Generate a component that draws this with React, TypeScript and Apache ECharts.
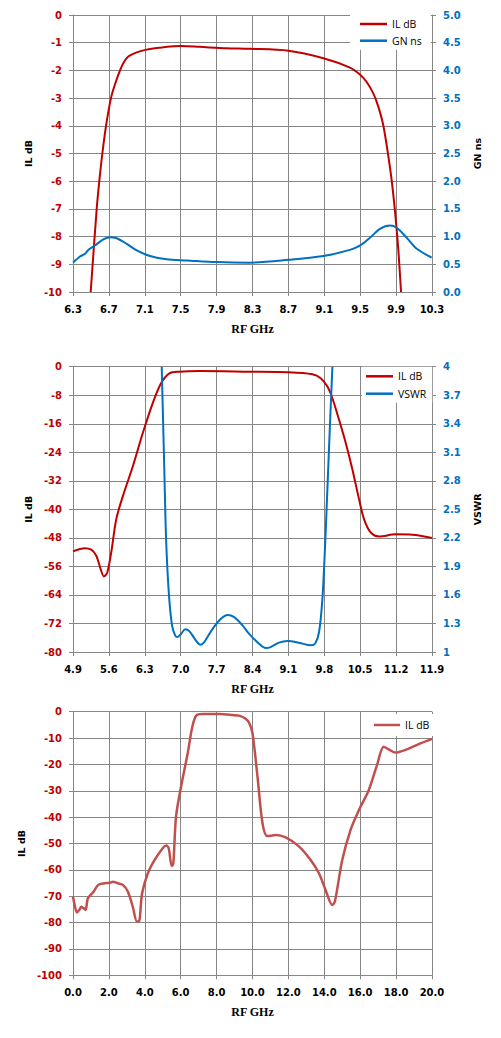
import React, { useEffect, useRef } from "react";
import * as echarts from "echarts";

// ---------- Chart 1 data (RF GHz vs IL dB / GN ns) ----------
const c1Freq = [6.497, 6.564, 6.593, 6.627, 6.668, 6.723, 6.768, 6.824, 6.868, 6.916, 7.01, 7.12, 7.27, 7.42, 7.51, 7.71, 8.01, 8.27, 8.7, 9.09, 9.386, 9.5, 9.572, 9.646, 9.7, 9.757, 9.81, 9.85, 9.888, 9.925, 9.955];
const c1IL = [-10, -7.0, -6.0, -5.0, -4.0, -3.0, -2.5, -2.0, -1.7, -1.5, -1.35, -1.25, -1.18, -1.13, -1.12, -1.15, -1.2, -1.22, -1.29, -1.56, -1.9, -2.16, -2.42, -2.83, -3.29, -3.98, -5.02, -5.95, -7.1, -8.49, -10];
const c1GNFreq = [6.3, 6.378, 6.434, 6.47, 6.545, 6.638, 6.712, 6.787, 6.898, 7.01, 7.158, 7.344, 7.567, 7.9, 8.27, 8.7, 9.09, 9.386, 9.5, 9.609, 9.72, 9.832, 9.907, 10.018, 10.13, 10.297];
const c1GN = [0.53, 0.64, 0.69, 0.76, 0.84, 0.95, 0.99, 0.97, 0.87, 0.75, 0.65, 0.59, 0.57, 0.54, 0.53, 0.58, 0.65, 0.76, 0.84, 0.98, 1.14, 1.2, 1.16, 0.98, 0.78, 0.62];

// ---------- Chart 2 data (RF GHz vs IL dB / VSWR) ----------
const c2Freq = [4.9, 5.127, 5.256, 5.354, 5.438, 5.503, 5.568, 5.645, 5.743, 5.872, 6.067, 6.261, 6.455, 6.617, 6.78, 6.974, 7.36, 8.335, 9.1, 9.568, 9.73, 9.86, 9.958, 10.088, 10.218, 10.348, 10.478, 10.576, 10.706, 10.868, 11.194, 11.519, 11.9];
const c2IL = [-51.8, -50.9, -51.3, -53.0, -56.7, -58.8, -57.7, -52.1, -42.8, -36.3, -27.9, -18.6, -10.2, -4.65, -1.86, -1.4, -1.2, -1.4, -1.58, -2.14, -3.26, -5.58, -8.84, -14.9, -21.4, -28.8, -37.2, -42.8, -46.5, -47.6, -47.0, -47.1, -48.0];
const c2VSFreq = [6.63, 6.682, 6.715, 6.767, 6.831, 6.896, 6.94, 7.006, 7.09, 7.168, 7.298, 7.382, 7.46, 7.622, 7.784, 7.914, 8.043, 8.205, 8.335, 8.528, 8.658, 8.755, 8.918, 9.08, 9.308, 9.536, 9.62, 9.698, 9.763, 9.815, 9.86, 9.912, 9.958];
const c2VSWR = [4.0, 2.88, 2.19, 1.63, 1.28, 1.17, 1.157, 1.19, 1.24, 1.22, 1.12, 1.077, 1.105, 1.244, 1.35, 1.39, 1.366, 1.28, 1.19, 1.087, 1.042, 1.052, 1.098, 1.115, 1.098, 1.07, 1.087, 1.21, 1.558, 2.116, 2.71, 3.41, 4.0];

// ---------- Chart 3 data (wideband IL dB) ----------
const c3Freq = [0, 0.09, 0.22, 0.37, 0.46, 0.59, 0.7, 0.83, 1.11, 1.41, 1.76, 2.04, 2.22, 2.5, 2.78, 3.06, 3.33, 3.56, 3.67, 3.85, 4.17, 4.54, 5.0, 5.19, 5.33, 5.5, 5.59, 5.74, 6.02, 6.39, 6.63, 6.85, 7.22, 8.15, 8.89, 9.3, 9.6, 9.81, 10.0, 10.28, 10.56, 10.83, 11.3, 11.85, 12.6, 13.24, 13.7, 14.07, 14.44, 14.59, 15.0, 15.46, 15.93, 16.48, 16.94, 17.31, 17.59, 17.96, 18.52, 19.26, 20.0];
const c3IL = [-70.2, -73.3, -76.2, -75, -74, -74.6, -75.2, -70.8, -68.6, -65.7, -65.1, -64.9, -64.5, -65.1, -65.7, -68.3, -74, -79.6, -79.6, -68.9, -61.3, -56.3, -51.8, -50.8, -51.8, -58.5, -57.5, -39.8, -28.4, -15.8, -6.3, -1.6, -0.9, -0.9, -1.26, -1.6, -2.6, -4.2, -8.2, -24.7, -42.4, -47.2, -46.8, -47.7, -51.2, -56.3, -61.3, -67.6, -73.3, -72, -56.3, -44.9, -37.3, -29.7, -20.2, -13.3, -14.3, -15.5, -14.5, -12.3, -10.3];

// ---------- styles ----------
const RED = "#C00000";
const BLUE = "#0070C0";
const RED3 = "#C0504D";
const GRID = "#868686";
const tickFont = { fontFamily: "DejaVu Sans", fontWeight: "bold" as const, fontSize: 10 };
const nameFont = { fontFamily: "DejaVu Sans", fontWeight: "bold" as const, fontSize: 9.5, color: "#000" };

const pairs = (xs: number[], ys: number[]) => xs.map((x, i) => [x, ys[i]]);

function xAxis(min: number, max: number, interval: number) {
  return {
    type: "value",
    min,
    max,
    interval,
    name: "RF GHz",
    nameLocation: "middle",
    nameGap: 31,
    nameTextStyle: { fontFamily: "Liberation Serif", fontWeight: "bold", fontSize: 12, color: "#000" },
    axisLine: { show: true, onZero: false, lineStyle: { color: GRID, width: 1 } },
    axisTick: { show: true, inside: false, length: 4, lineStyle: { color: GRID } },
    splitLine: { show: true, lineStyle: { color: GRID, width: 1 } },
    axisLabel: { ...tickFont, color: "#000", margin: 12, formatter: (v: number) => v.toFixed(1) },
  };
}

function yAxis(opts: {
  min: number; max: number; interval: number; name: string; position: "left" | "right";
  color: string; nameGap: number; split: boolean; fmt?: (v: number) => string;
}) {
  return {
    type: "value",
    min: opts.min,
    max: opts.max,
    interval: opts.interval,
    position: opts.position,
    name: opts.name,
    nameLocation: "middle",
    nameRotate: 90,
    nameGap: opts.nameGap,
    nameTextStyle: nameFont,
    axisLine: { show: true, onZero: false, lineStyle: { color: GRID, width: 1 } },
    axisTick: { show: true, inside: false, length: 4, lineStyle: { color: GRID } },
    splitLine: { show: opts.split, lineStyle: { color: GRID, width: 1 } },
    axisLabel: { ...tickFont, color: opts.color, margin: 11, formatter: opts.fmt },
  };
}

function lineSeries(name: string, data: number[][], color: string, yAxisIndex = 0, width = 2) {
  return {
    type: "line",
    name,
    yAxisIndex,
    data,
    symbol: "none",
    showSymbol: false,
    smooth: 0.3,
    clip: true,
    lineStyle: { color, width },
    itemStyle: { color },
  };
}

function legend(names: string[], left: number, top: number, padding: number[], gap: number, itemWidth = 27) {
  return {
    show: true,
    data: names,
    orient: "vertical",
    left,
    top,
    padding,
    itemGap: gap,
    itemWidth,
    itemHeight: 2.5,
    icon: "rect",
    backgroundColor: "#ffffff",
    textStyle: { fontFamily: "Open Sans", fontSize: 10.5, color: "#000", lineHeight: 14 },
  };
}

const option1 = {
  animation: false,
  grid: { left: 73, top: 15, width: 359, height: 288.3 },
  legend: legend(["IL dB", "GN ns"], 350, 15, [2, 9, 2, 10], 2.7),
  xAxis: xAxis(6.3, 10.3, 0.4),
  yAxis: [
    yAxis({ min: -10, max: 0, interval: 1, name: "IL dB", position: "left", color: RED, nameGap: 37, split: true }),
    yAxis({ min: 0, max: 5, interval: 0.5, name: "GN ns", position: "right", color: BLUE, nameGap: 40, split: false, fmt: (v) => v.toFixed(1) }),
  ],
  series: [
    lineSeries("IL dB", pairs(c1Freq, c1IL), RED, 0),
    lineSeries("GN ns", pairs(c1GNFreq, c1GN), BLUE, 1),
  ],
};

const option2 = {
  animation: false,
  grid: { left: 73, top: 26.7, width: 359, height: 287.3 },
  legend: legend(["IL dB", "VSWR"], 362, 26.7, [2.6, 6, 2, 4], 3.4),
  xAxis: xAxis(4.9, 11.9, 0.7),
  yAxis: [
    yAxis({ min: -80, max: 0, interval: 8, name: "IL dB", position: "left", color: RED, nameGap: 37, split: true }),
    yAxis({ min: 1, max: 4, interval: 0.3, name: "VSWR", position: "right", color: BLUE, nameGap: 40, split: false }),
  ],
  series: [
    lineSeries("IL dB", pairs(c2Freq, c2IL), RED, 0),
    lineSeries("VSWR", pairs(c2VSFreq, c2VSWR), BLUE, 1),
  ],
};

const option3 = {
  animation: false,
  grid: { left: 73, top: 11.7, width: 359, height: 263.6 },
  legend: legend(["IL dB"], 368, 14, [4, 4, 4, 6], 0, 26),
  xAxis: xAxis(0, 20, 2),
  yAxis: [
    yAxis({ min: -100, max: 0, interval: 10, name: "IL dB", position: "left", color: RED, nameGap: 43, split: true }),
  ],
  series: [lineSeries("IL dB", pairs(c3Freq, c3IL), RED3, 0, 2.5)],
};

function Chart({ option, top, height }: { option: any; top: number; height: number }) {
  const ref = useRef<HTMLDivElement>(null);
  useEffect(() => {
    if (!ref.current) return;
    const chart = echarts.init(ref.current, undefined, { renderer: "svg" });
    chart.setOption(option);
    return () => chart.dispose();
  }, [option]);
  return (
    <div
      ref={ref}
      style={{ position: "absolute", left: 0, top, width: 501, height }}
    />
  );
}

export default function App() {
  return (
    <div style={{ position: "absolute", left: 0, top: 0, width: 501, height: 1038, background: "#fff", overflow: "hidden" }}>
      <Chart option={option1} top={0} height={340} />
      <Chart option={option2} top={340} height={360} />
      <Chart option={option3} top={700} height={338} />
    </div>
  );
}
